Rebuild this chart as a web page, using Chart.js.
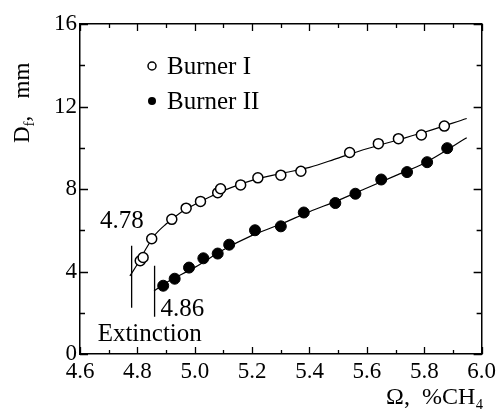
<!DOCTYPE html>
<html>
<head>
<meta charset="utf-8">
<script src="https://cdn.jsdelivr.net/npm/chart.js@4"></script>
<style>
  html, body { margin: 0; padding: 0; background: #fff; }
  canvas { display: block; }
</style>
</head>
<body>
<canvas id="c" width="500" height="418"></canvas>
<script>
// measured points
const burner1X = [4.81, 4.82, 4.85, 4.92, 4.97, 5.02, 5.08, 5.09, 5.16, 5.22, 5.30, 5.37, 5.54, 5.64, 5.71, 5.79, 5.87];
const burner1Y = [4.52, 4.68, 5.59, 6.53, 7.07, 7.40, 7.82, 8.01, 8.20, 8.54, 8.67, 8.86, 9.77, 10.20, 10.44, 10.62, 11.05];
const burner2X = [4.89, 4.93, 4.98, 5.03, 5.08, 5.12, 5.21, 5.30, 5.38, 5.49, 5.56, 5.65, 5.74, 5.81, 5.88];
const burner2Y = [3.31, 3.65, 4.19, 4.64, 4.87, 5.30, 6.00, 6.19, 6.86, 7.32, 7.77, 8.46, 8.82, 9.30, 9.98];

// fitted curves as drawn
const fit1X = [4.774, 4.80, 4.83, 4.86, 4.90, 4.95, 5.00, 5.05, 5.10, 5.20, 5.30, 5.40, 5.50, 5.60, 5.70, 5.80, 5.948];
const fit1Y = [3.79, 4.35, 5.10, 5.75, 6.30, 6.85, 7.25, 7.60, 7.92, 8.42, 8.75, 9.05, 9.50, 9.95, 10.35, 10.75, 11.42];
const fit2X = [4.858, 4.90, 5.00, 5.10, 5.20, 5.30, 5.40, 5.50, 5.60, 5.70, 5.80, 5.948];
const fit2Y = [3.06, 3.45, 4.20, 5.05, 5.75, 6.30, 6.90, 7.45, 8.05, 8.65, 9.25, 10.48];

// extinction limits
const extinctionX = [4.78, 4.86];
const extinctionLow = [2.24, 1.81];
const extinctionHigh = [5.25, 4.28];
const extinctionLabels = ['4.78', '4.86'];

const seriesNames = ['Burner I', 'Burner II'];
const xTicks = [4.6, 4.8, 5.0, 5.2, 5.4, 5.6, 5.8, 6.0];
const yTicks = [0, 4, 8, 12, 16];

const serif = '"Liberation Serif", "Times New Roman", serif';

function pts(xs, ys) {
    return xs.map((x, i) => ({ x: x, y: ys[i] }));
}

const extLines = extinctionX.map((x, i) => ({
    type: 'scatter',
    data: [{ x: x, y: extinctionLow[i] }, { x: x, y: extinctionHigh[i] }],
    showLine: true,
    borderColor: '#000',
    borderWidth: 1.3,
    pointRadius: 0,
    order: 3
}));

// inward ticks, legend, labels and axis titles
const decor = {
    id: 'decor',
    afterDraw(chart) {
        const ctx = chart.ctx;
        const xs = chart.scales.x, ys = chart.scales.y;
        const a = chart.chartArea;
        ctx.save();
        ctx.strokeStyle = '#000';
        ctx.fillStyle = '#000';
        ctx.lineWidth = 1.3;
        ctx.beginPath();
        for (let i = 0; i <= 14; i++) {
            const v = 4.6 + i * 0.1;
            const px = Math.round(xs.getPixelForValue(v)) + 0.5;
            const len = (i % 2 === 0) ? 7 : 4;
            ctx.moveTo(px, a.bottom); ctx.lineTo(px, a.bottom - len);
            ctx.moveTo(px, a.top); ctx.lineTo(px, a.top + len);
        }
        for (let v = 0; v <= 16; v += 2) {
            const py = Math.round(ys.getPixelForValue(v)) + 0.5;
            const len = (v % 4 === 0) ? 8 : 5;
            ctx.moveTo(a.left, py); ctx.lineTo(a.left + len, py);
            ctx.moveTo(a.right, py); ctx.lineTo(a.right - len, py);
        }
        ctx.stroke();

        // legend
        ctx.font = '25px ' + serif;
        ctx.textBaseline = 'middle';
        ctx.textAlign = 'left';
        const legY = [66, 101];
        legY.forEach((y, i) => {
            ctx.beginPath();
            ctx.arc(152, y, 4, 0, Math.PI * 2);
            if (i === 0) { ctx.fillStyle = '#fff'; ctx.fill(); ctx.lineWidth = 1.5; ctx.stroke(); }
            else { ctx.fillStyle = '#000'; ctx.fill(); }
            ctx.fillStyle = '#000';
            ctx.fillText(seriesNames[i], 167, y + 1);
        });

        // extinction labels
        ctx.textBaseline = 'alphabetic';
        const e0 = xs.getPixelForValue(extinctionX[0]);
        const e1 = xs.getPixelForValue(extinctionX[1]);
        ctx.textAlign = 'right';
        ctx.fillText(extinctionLabels[0], e0 + 12, ys.getPixelForValue(extinctionHigh[0]) - 18);
        ctx.textAlign = 'left';
        ctx.fillText(extinctionLabels[1], e1 + 6, ys.getPixelForValue(extinctionLow[1]) - 1);
        ctx.fillText('Extinction', e0 - 34, ys.getPixelForValue(extinctionLow[1]) + 24);

        // axis titles
        ctx.font = '24px ' + serif;
        ctx.textAlign = 'right';
        ctx.fillText('\u03A9,  %CH\u2084', a.right + 2, 404);

        ctx.translate(29, 143);
        ctx.rotate(-Math.PI / 2);
        ctx.textAlign = 'left';
        ctx.font = '23px ' + serif;
        ctx.fillText('D', 0, 0);
        const dw = ctx.measureText('D').width;
        ctx.font = '15px ' + serif;
        ctx.fillText('f', dw, 5);
        ctx.font = '23px ' + serif;
        ctx.fillText(',   mm', dw + 5, 0);
        ctx.restore();
    }
};

new Chart(document.getElementById('c').getContext('2d'), {
    type: 'scatter',
    data: {
        datasets: [
            {
                label: seriesNames[0],
                data: pts(burner1X, burner1Y),
                pointRadius: 5,
                pointBackgroundColor: '#fff',
                pointBorderColor: '#000',
                pointBorderWidth: 1.5,
                order: 1
            },
            {
                label: seriesNames[1],
                data: pts(burner2X, burner2Y),
                pointRadius: 5.5,
                pointBackgroundColor: '#000',
                pointBorderColor: '#000',
                pointBorderWidth: 1,
                order: 1
            },
            {
                data: pts(fit1X, fit1Y),
                showLine: true,
                cubicInterpolationMode: 'monotone',
                borderColor: '#000',
                borderWidth: 1.2,
                pointRadius: 0,
                order: 2
            },
            {
                data: pts(fit2X, fit2Y),
                showLine: true,
                cubicInterpolationMode: 'monotone',
                borderColor: '#000',
                borderWidth: 1.2,
                pointRadius: 0,
                order: 2
            }
        ].concat(extLines)
    },
    options: {
        responsive: false,
        animation: false,
        layout: { padding: { top: 24, right: 16, left: 0, bottom: 0 } },
        plugins: { legend: { display: false }, tooltip: { enabled: false } },
        scales: {
            x: {
                type: 'linear',
                min: 4.6,
                max: 6.0,
                afterBuildTicks: s => { s.ticks = xTicks.map(v => ({ value: v })); },
                afterFit: s => { s.height = 64; },
                grid: { display: false, drawTicks: false },
                border: { color: '#000', width: 1.5 },
                ticks: {
                    padding: 4,
                    color: '#000',
                    font: { family: serif, size: 23 },
                    maxRotation: 0,
                    callback: v => v.toFixed(1)
                }
            },
            y: {
                min: 0,
                max: 16,
                afterBuildTicks: s => { s.ticks = yTicks.map(v => ({ value: v })); },
                afterFit: s => { s.width = 80; },
                grid: { display: false, drawTicks: false },
                border: { color: '#000', width: 1.5 },
                ticks: {
                    padding: 3,
                    color: '#000',
                    font: { family: serif, size: 23 },
                    callback: v => String(v)
                }
            },
            x2: {
                type: 'linear', position: 'top', min: 4.6, max: 6.0,
                display: true,
                afterFit: s => { s.height = 0; },
                grid: { display: false, drawTicks: false },
                border: { color: '#000', width: 1.5 },
                ticks: { display: false }
            },
            y2: {
                type: 'linear', position: 'right', min: 0, max: 16,
                display: true,
                afterFit: s => { s.width = 0; },
                grid: { display: false, drawTicks: false },
                border: { color: '#000', width: 1.5 },
                ticks: { display: false }
            }
        }
    },
    plugins: [decor]
});
</script>
</body>
</html>
